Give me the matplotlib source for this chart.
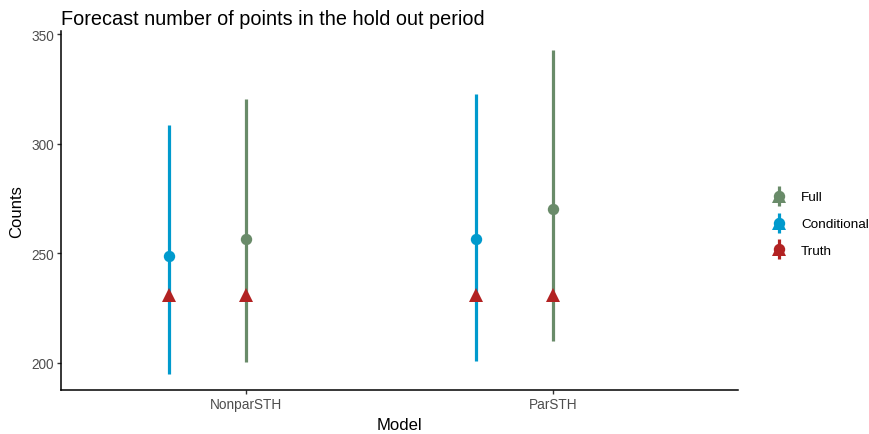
import matplotlib
matplotlib.use("Agg")
import matplotlib.pyplot as plt
from matplotlib.lines import Line2D
from matplotlib.legend_handler import HandlerTuple

plt.rcParams['font.family'] = ['Liberation Sans', 'DejaVu Sans']

models = ["NonparSTH", "ParSTH"]
series = ["Full", "Conditional"]
mean_full = [256.5, 270.2]
low_full = [200.3, 209.8]
high_full = [320.4, 342.8]
mean_cond = [248.7, 256.4]
low_cond = [194.8, 200.8]
high_cond = [308.6, 322.8]
truth = [231.0, 231.0]

colors = {"Full": "#698B69", "Conditional": "#009ACD", "Truth": "#B22222"}
offsets = {"Full": 0.0, "Conditional": -0.25}

fig = plt.figure(figsize=(8.69, 4.35), dpi=100)
ax = fig.add_axes([61 / 869, 44 / 435, 677 / 869, 359 / 435])

xs = list(range(1, len(models) + 1))
data = {
    "Full": (mean_full, low_full, high_full),
    "Conditional": (mean_cond, low_cond, high_cond),
}
for name in series:
    m, lo, hi = data[name]
    px = [x + offsets[name] for x in xs]
    ax.vlines(px, lo, hi, color=colors[name], linewidth=2.3, zorder=2)
    ax.plot(px, m, 'o', color=colors[name], markersize=8.2, markeredgewidth=0, zorder=3)
    ax.plot(px, truth, '^', color=colors["Truth"], markersize=10, markeredgewidth=0, zorder=4)

ax.set_xlim(0.4, 2.6)
ax.set_ylim(187.6, 351.4)
ax.set_xticks(xs)
ax.set_xticklabels(models)
ax.set_yticks([200, 250, 300, 350])
for s in ["top", "right"]:
    ax.spines[s].set_visible(False)
for s in ["left", "bottom"]:
    ax.spines[s].set_linewidth(1.1)
    ax.spines[s].set_color("black")
ax.tick_params(axis="both", length=2.7, width=1.0, color="#333333",
               labelsize=9.8, labelcolor="#4D4D4D", pad=2.5)
ax.set_xlabel("Model", fontsize=12, labelpad=4)
ax.set_ylabel("Counts", fontsize=12, labelpad=5)
ax.set_title("Forecast number of points in the hold out period", loc="left",
             fontsize=14.3, pad=5)

handles = []
labels = []
for name in ["Full", "Conditional", "Truth"]:
    c = colors[name]
    bar = Line2D([], [], marker='|', color=c, markersize=15, markeredgewidth=2.3, linestyle='none')
    dot = Line2D([], [], marker='o', color=c, markersize=8.2, markeredgewidth=0, linestyle='none')
    tri = Line2D([], [], marker='^', color=c, markersize=10, markeredgewidth=0, linestyle='none')
    handles.append((bar, dot, tri))
    labels.append(name)

fig.legend(handles, labels, handler_map={tuple: HandlerTuple(ndivide=1, pad=0)},
           loc="center left", bbox_to_anchor=(764 / 869, 1 - 225 / 435),
           frameon=False, fontsize=9.7, handlelength=1.4, handletextpad=0.95,
           labelspacing=1.08, borderaxespad=0)

fig.savefig("out.png", dpi=100)
